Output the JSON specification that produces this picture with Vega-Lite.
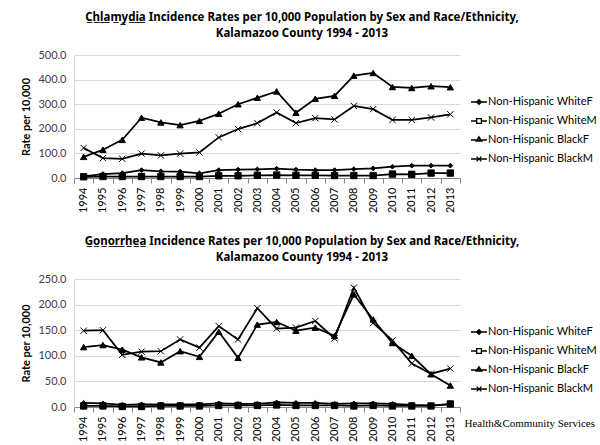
{
  "$schema": "https://vega.github.io/schema/vega-lite/v6.json",
  "padding": {"left": 20, "top": 11, "right": 5, "bottom": 0},
  "background": "white",
  "config": {
    "font": "Lato",
    "view": {"stroke": null},
    "axis": {"labelFont": "Lato", "titleFont": "Lato"},
    "title": {"font": "Noto Sans", "fontSize": 11.5, "fontWeight": "bold", "color": "black", "lineHeight": 16},
    "legend": {"labelFont": "Lato"}
  },
  "title": {"text": "Health&Community Services", "orient": "bottom", "anchor": "end", "font": "Liberation Serif", "fontSize": 11, "fontWeight": "normal", "color": "black", "offset": -24, "dx": -2},
  "datasets": {"rates": [
    {"disease":"Chlamydia","group":"Non-Hispanic WhiteF","year":"1994","rate":7},
    {"disease":"Chlamydia","group":"Non-Hispanic WhiteF","year":"1995","rate":16},
    {"disease":"Chlamydia","group":"Non-Hispanic WhiteF","year":"1996","rate":20},
    {"disease":"Chlamydia","group":"Non-Hispanic WhiteF","year":"1997","rate":32},
    {"disease":"Chlamydia","group":"Non-Hispanic WhiteF","year":"1998","rate":27},
    {"disease":"Chlamydia","group":"Non-Hispanic WhiteF","year":"1999","rate":26},
    {"disease":"Chlamydia","group":"Non-Hispanic WhiteF","year":"2000","rate":19},
    {"disease":"Chlamydia","group":"Non-Hispanic WhiteF","year":"2001","rate":32},
    {"disease":"Chlamydia","group":"Non-Hispanic WhiteF","year":"2002","rate":34},
    {"disease":"Chlamydia","group":"Non-Hispanic WhiteF","year":"2003","rate":35},
    {"disease":"Chlamydia","group":"Non-Hispanic WhiteF","year":"2004","rate":38},
    {"disease":"Chlamydia","group":"Non-Hispanic WhiteF","year":"2005","rate":34},
    {"disease":"Chlamydia","group":"Non-Hispanic WhiteF","year":"2006","rate":32},
    {"disease":"Chlamydia","group":"Non-Hispanic WhiteF","year":"2007","rate":32},
    {"disease":"Chlamydia","group":"Non-Hispanic WhiteF","year":"2008","rate":36},
    {"disease":"Chlamydia","group":"Non-Hispanic WhiteF","year":"2009","rate":39},
    {"disease":"Chlamydia","group":"Non-Hispanic WhiteF","year":"2010","rate":46},
    {"disease":"Chlamydia","group":"Non-Hispanic WhiteF","year":"2011","rate":50},
    {"disease":"Chlamydia","group":"Non-Hispanic WhiteF","year":"2012","rate":50},
    {"disease":"Chlamydia","group":"Non-Hispanic WhiteF","year":"2013","rate":50},
    {"disease":"Chlamydia","group":"Non-Hispanic WhiteM","year":"1994","rate":5},
    {"disease":"Chlamydia","group":"Non-Hispanic WhiteM","year":"1995","rate":6},
    {"disease":"Chlamydia","group":"Non-Hispanic WhiteM","year":"1996","rate":6},
    {"disease":"Chlamydia","group":"Non-Hispanic WhiteM","year":"1997","rate":6},
    {"disease":"Chlamydia","group":"Non-Hispanic WhiteM","year":"1998","rate":6},
    {"disease":"Chlamydia","group":"Non-Hispanic WhiteM","year":"1999","rate":6},
    {"disease":"Chlamydia","group":"Non-Hispanic WhiteM","year":"2000","rate":6},
    {"disease":"Chlamydia","group":"Non-Hispanic WhiteM","year":"2001","rate":9},
    {"disease":"Chlamydia","group":"Non-Hispanic WhiteM","year":"2002","rate":9},
    {"disease":"Chlamydia","group":"Non-Hispanic WhiteM","year":"2003","rate":11},
    {"disease":"Chlamydia","group":"Non-Hispanic WhiteM","year":"2004","rate":12},
    {"disease":"Chlamydia","group":"Non-Hispanic WhiteM","year":"2005","rate":11},
    {"disease":"Chlamydia","group":"Non-Hispanic WhiteM","year":"2006","rate":11},
    {"disease":"Chlamydia","group":"Non-Hispanic WhiteM","year":"2007","rate":10},
    {"disease":"Chlamydia","group":"Non-Hispanic WhiteM","year":"2008","rate":10},
    {"disease":"Chlamydia","group":"Non-Hispanic WhiteM","year":"2009","rate":10},
    {"disease":"Chlamydia","group":"Non-Hispanic WhiteM","year":"2010","rate":16},
    {"disease":"Chlamydia","group":"Non-Hispanic WhiteM","year":"2011","rate":15},
    {"disease":"Chlamydia","group":"Non-Hispanic WhiteM","year":"2012","rate":20},
    {"disease":"Chlamydia","group":"Non-Hispanic WhiteM","year":"2013","rate":20},
    {"disease":"Chlamydia","group":"Non-Hispanic BlackF","year":"1994","rate":86},
    {"disease":"Chlamydia","group":"Non-Hispanic BlackF","year":"1995","rate":115},
    {"disease":"Chlamydia","group":"Non-Hispanic BlackF","year":"1996","rate":155},
    {"disease":"Chlamydia","group":"Non-Hispanic BlackF","year":"1997","rate":245},
    {"disease":"Chlamydia","group":"Non-Hispanic BlackF","year":"1998","rate":226},
    {"disease":"Chlamydia","group":"Non-Hispanic BlackF","year":"1999","rate":215},
    {"disease":"Chlamydia","group":"Non-Hispanic BlackF","year":"2000","rate":232},
    {"disease":"Chlamydia","group":"Non-Hispanic BlackF","year":"2001","rate":261},
    {"disease":"Chlamydia","group":"Non-Hispanic BlackF","year":"2002","rate":300},
    {"disease":"Chlamydia","group":"Non-Hispanic BlackF","year":"2003","rate":326},
    {"disease":"Chlamydia","group":"Non-Hispanic BlackF","year":"2004","rate":352},
    {"disease":"Chlamydia","group":"Non-Hispanic BlackF","year":"2005","rate":265},
    {"disease":"Chlamydia","group":"Non-Hispanic BlackF","year":"2006","rate":322},
    {"disease":"Chlamydia","group":"Non-Hispanic BlackF","year":"2007","rate":334},
    {"disease":"Chlamydia","group":"Non-Hispanic BlackF","year":"2008","rate":416},
    {"disease":"Chlamydia","group":"Non-Hispanic BlackF","year":"2009","rate":427},
    {"disease":"Chlamydia","group":"Non-Hispanic BlackF","year":"2010","rate":370},
    {"disease":"Chlamydia","group":"Non-Hispanic BlackF","year":"2011","rate":366},
    {"disease":"Chlamydia","group":"Non-Hispanic BlackF","year":"2012","rate":373},
    {"disease":"Chlamydia","group":"Non-Hispanic BlackF","year":"2013","rate":369},
    {"disease":"Chlamydia","group":"Non-Hispanic BlackM","year":"1994","rate":122},
    {"disease":"Chlamydia","group":"Non-Hispanic BlackM","year":"1995","rate":81},
    {"disease":"Chlamydia","group":"Non-Hispanic BlackM","year":"1996","rate":78},
    {"disease":"Chlamydia","group":"Non-Hispanic BlackM","year":"1997","rate":99},
    {"disease":"Chlamydia","group":"Non-Hispanic BlackM","year":"1998","rate":92},
    {"disease":"Chlamydia","group":"Non-Hispanic BlackM","year":"1999","rate":99},
    {"disease":"Chlamydia","group":"Non-Hispanic BlackM","year":"2000","rate":104},
    {"disease":"Chlamydia","group":"Non-Hispanic BlackM","year":"2001","rate":165},
    {"disease":"Chlamydia","group":"Non-Hispanic BlackM","year":"2002","rate":199},
    {"disease":"Chlamydia","group":"Non-Hispanic BlackM","year":"2003","rate":223},
    {"disease":"Chlamydia","group":"Non-Hispanic BlackM","year":"2004","rate":266},
    {"disease":"Chlamydia","group":"Non-Hispanic BlackM","year":"2005","rate":223},
    {"disease":"Chlamydia","group":"Non-Hispanic BlackM","year":"2006","rate":243},
    {"disease":"Chlamydia","group":"Non-Hispanic BlackM","year":"2007","rate":238},
    {"disease":"Chlamydia","group":"Non-Hispanic BlackM","year":"2008","rate":293},
    {"disease":"Chlamydia","group":"Non-Hispanic BlackM","year":"2009","rate":280},
    {"disease":"Chlamydia","group":"Non-Hispanic BlackM","year":"2010","rate":236},
    {"disease":"Chlamydia","group":"Non-Hispanic BlackM","year":"2011","rate":236},
    {"disease":"Chlamydia","group":"Non-Hispanic BlackM","year":"2012","rate":246},
    {"disease":"Chlamydia","group":"Non-Hispanic BlackM","year":"2013","rate":259},
    {"disease":"Gonorrhea","group":"Non-Hispanic WhiteF","year":"1994","rate":8},
    {"disease":"Gonorrhea","group":"Non-Hispanic WhiteF","year":"1995","rate":7},
    {"disease":"Gonorrhea","group":"Non-Hispanic WhiteF","year":"1996","rate":4},
    {"disease":"Gonorrhea","group":"Non-Hispanic WhiteF","year":"1997","rate":5},
    {"disease":"Gonorrhea","group":"Non-Hispanic WhiteF","year":"1998","rate":5},
    {"disease":"Gonorrhea","group":"Non-Hispanic WhiteF","year":"1999","rate":5},
    {"disease":"Gonorrhea","group":"Non-Hispanic WhiteF","year":"2000","rate":5},
    {"disease":"Gonorrhea","group":"Non-Hispanic WhiteF","year":"2001","rate":7},
    {"disease":"Gonorrhea","group":"Non-Hispanic WhiteF","year":"2002","rate":6},
    {"disease":"Gonorrhea","group":"Non-Hispanic WhiteF","year":"2003","rate":6},
    {"disease":"Gonorrhea","group":"Non-Hispanic WhiteF","year":"2004","rate":9},
    {"disease":"Gonorrhea","group":"Non-Hispanic WhiteF","year":"2005","rate":8},
    {"disease":"Gonorrhea","group":"Non-Hispanic WhiteF","year":"2006","rate":8},
    {"disease":"Gonorrhea","group":"Non-Hispanic WhiteF","year":"2007","rate":6},
    {"disease":"Gonorrhea","group":"Non-Hispanic WhiteF","year":"2008","rate":7},
    {"disease":"Gonorrhea","group":"Non-Hispanic WhiteF","year":"2009","rate":7},
    {"disease":"Gonorrhea","group":"Non-Hispanic WhiteF","year":"2010","rate":6},
    {"disease":"Gonorrhea","group":"Non-Hispanic WhiteF","year":"2011","rate":4},
    {"disease":"Gonorrhea","group":"Non-Hispanic WhiteF","year":"2012","rate":3},
    {"disease":"Gonorrhea","group":"Non-Hispanic WhiteF","year":"2013","rate":5},
    {"disease":"Gonorrhea","group":"Non-Hispanic WhiteM","year":"1994","rate":2},
    {"disease":"Gonorrhea","group":"Non-Hispanic WhiteM","year":"1995","rate":2},
    {"disease":"Gonorrhea","group":"Non-Hispanic WhiteM","year":"1996","rate":1},
    {"disease":"Gonorrhea","group":"Non-Hispanic WhiteM","year":"1997","rate":1},
    {"disease":"Gonorrhea","group":"Non-Hispanic WhiteM","year":"1998","rate":2},
    {"disease":"Gonorrhea","group":"Non-Hispanic WhiteM","year":"1999","rate":2},
    {"disease":"Gonorrhea","group":"Non-Hispanic WhiteM","year":"2000","rate":2},
    {"disease":"Gonorrhea","group":"Non-Hispanic WhiteM","year":"2001","rate":3},
    {"disease":"Gonorrhea","group":"Non-Hispanic WhiteM","year":"2002","rate":3},
    {"disease":"Gonorrhea","group":"Non-Hispanic WhiteM","year":"2003","rate":3},
    {"disease":"Gonorrhea","group":"Non-Hispanic WhiteM","year":"2004","rate":4},
    {"disease":"Gonorrhea","group":"Non-Hispanic WhiteM","year":"2005","rate":3},
    {"disease":"Gonorrhea","group":"Non-Hispanic WhiteM","year":"2006","rate":3},
    {"disease":"Gonorrhea","group":"Non-Hispanic WhiteM","year":"2007","rate":3},
    {"disease":"Gonorrhea","group":"Non-Hispanic WhiteM","year":"2008","rate":2},
    {"disease":"Gonorrhea","group":"Non-Hispanic WhiteM","year":"2009","rate":3},
    {"disease":"Gonorrhea","group":"Non-Hispanic WhiteM","year":"2010","rate":2},
    {"disease":"Gonorrhea","group":"Non-Hispanic WhiteM","year":"2011","rate":2},
    {"disease":"Gonorrhea","group":"Non-Hispanic WhiteM","year":"2012","rate":2},
    {"disease":"Gonorrhea","group":"Non-Hispanic WhiteM","year":"2013","rate":6},
    {"disease":"Gonorrhea","group":"Non-Hispanic BlackF","year":"1994","rate":117},
    {"disease":"Gonorrhea","group":"Non-Hispanic BlackF","year":"1995","rate":121},
    {"disease":"Gonorrhea","group":"Non-Hispanic BlackF","year":"1996","rate":112},
    {"disease":"Gonorrhea","group":"Non-Hispanic BlackF","year":"1997","rate":97},
    {"disease":"Gonorrhea","group":"Non-Hispanic BlackF","year":"1998","rate":87},
    {"disease":"Gonorrhea","group":"Non-Hispanic BlackF","year":"1999","rate":109},
    {"disease":"Gonorrhea","group":"Non-Hispanic BlackF","year":"2000","rate":98},
    {"disease":"Gonorrhea","group":"Non-Hispanic BlackF","year":"2001","rate":147},
    {"disease":"Gonorrhea","group":"Non-Hispanic BlackF","year":"2002","rate":96},
    {"disease":"Gonorrhea","group":"Non-Hispanic BlackF","year":"2003","rate":161},
    {"disease":"Gonorrhea","group":"Non-Hispanic BlackF","year":"2004","rate":166},
    {"disease":"Gonorrhea","group":"Non-Hispanic BlackF","year":"2005","rate":149},
    {"disease":"Gonorrhea","group":"Non-Hispanic BlackF","year":"2006","rate":155},
    {"disease":"Gonorrhea","group":"Non-Hispanic BlackF","year":"2007","rate":139},
    {"disease":"Gonorrhea","group":"Non-Hispanic BlackF","year":"2008","rate":220},
    {"disease":"Gonorrhea","group":"Non-Hispanic BlackF","year":"2009","rate":171},
    {"disease":"Gonorrhea","group":"Non-Hispanic BlackF","year":"2010","rate":125},
    {"disease":"Gonorrhea","group":"Non-Hispanic BlackF","year":"2011","rate":100},
    {"disease":"Gonorrhea","group":"Non-Hispanic BlackF","year":"2012","rate":64},
    {"disease":"Gonorrhea","group":"Non-Hispanic BlackF","year":"2013","rate":42},
    {"disease":"Gonorrhea","group":"Non-Hispanic BlackM","year":"1994","rate":149},
    {"disease":"Gonorrhea","group":"Non-Hispanic BlackM","year":"1995","rate":150},
    {"disease":"Gonorrhea","group":"Non-Hispanic BlackM","year":"1996","rate":102},
    {"disease":"Gonorrhea","group":"Non-Hispanic BlackM","year":"1997","rate":108},
    {"disease":"Gonorrhea","group":"Non-Hispanic BlackM","year":"1998","rate":109},
    {"disease":"Gonorrhea","group":"Non-Hispanic BlackM","year":"1999","rate":132},
    {"disease":"Gonorrhea","group":"Non-Hispanic BlackM","year":"2000","rate":116},
    {"disease":"Gonorrhea","group":"Non-Hispanic BlackM","year":"2001","rate":158},
    {"disease":"Gonorrhea","group":"Non-Hispanic BlackM","year":"2002","rate":132},
    {"disease":"Gonorrhea","group":"Non-Hispanic BlackM","year":"2003","rate":193},
    {"disease":"Gonorrhea","group":"Non-Hispanic BlackM","year":"2004","rate":153},
    {"disease":"Gonorrhea","group":"Non-Hispanic BlackM","year":"2005","rate":155},
    {"disease":"Gonorrhea","group":"Non-Hispanic BlackM","year":"2006","rate":168},
    {"disease":"Gonorrhea","group":"Non-Hispanic BlackM","year":"2007","rate":134},
    {"disease":"Gonorrhea","group":"Non-Hispanic BlackM","year":"2008","rate":233},
    {"disease":"Gonorrhea","group":"Non-Hispanic BlackM","year":"2009","rate":164},
    {"disease":"Gonorrhea","group":"Non-Hispanic BlackM","year":"2010","rate":130},
    {"disease":"Gonorrhea","group":"Non-Hispanic BlackM","year":"2011","rate":85},
    {"disease":"Gonorrhea","group":"Non-Hispanic BlackM","year":"2012","rate":65},
    {"disease":"Gonorrhea","group":"Non-Hispanic BlackM","year":"2013","rate":75}
  ]},
  "data": {"name": "rates"},
  "spacing": 22,
  "resolve": {"scale": {"shape": "independent", "y": "independent"}, "legend": {"shape": "independent"}},
  "vconcat": [
    {
      "title": {"text": ["C\u0332h\u0332l\u0332a\u0332m\u0332y\u0332d\u0332i\u0332a\u0332 Incidence Rates per 10,000 Population by Sex and Race/Ethnicity,", "Kalamazoo County 1994 - 2013"], "dx": 35, "offset": 10},
      "width": 386,
      "height": 123,
      "transform": [{"filter": "datum.disease == 'Chlamydia'"}],
      "encoding": {
        "x": {"field": "year", "type": "ordinal", "scale": {"type": "band", "paddingInner": 0, "paddingOuter": 0}, "bandPosition": 0.5,
              "axis": {"title": null, "labelAngle": 270, "labelFontSize": 11, "labelColor": "black", "labelPadding": 4, "domainColor": "#868686", "tickColor": "#868686", "tickSize": 5, "tickBand": "extent", "grid": false}},
        "y": {"field": "rate", "type": "quantitative", "scale": {"domain": [0, 500], "nice": false},
              "axis": {"values": [0, 100, 200, 300, 400, 500], "format": ".1f", "title": "Rate per 10,000", "titleFontSize": 11, "titleFontWeight": "bold", "titleColor": "black", "titlePadding": 6, "labelFontSize": 11, "labelColor": "#404040", "labelPadding": 8, "ticks": false, "gridColor": "#d9d9d9", "domainColor": "#d9d9d9"}}
      },
      "resolve": {"scale": {"shape": "independent"}, "legend": {"shape": "independent"}},
      "layer": [
        {"mark": {"type": "line", "color": "black", "strokeWidth": 1.75}, "encoding": {"detail": {"field": "group"}}},
        {"mark": {"type": "point", "fill": "black", "stroke": "black", "strokeWidth": 1, "opacity": 1, "fillOpacity": 1, "size": 40},
         "encoding": {
           "shape": {"field": "group", "type": "nominal", "legend": null,
             "scale": {"domain": ["Non-Hispanic WhiteF", "Non-Hispanic WhiteM", "Non-Hispanic BlackF", "Non-Hispanic BlackM"], "range": ["M0,-0.75L0.75,0L0,0.75L-0.75,0Z", "square", "triangle-up", "M-1,-1L1,1M-1,1L1,-1"]}}
         }},
        {"transform": [{"filter": "datum.rate < 0"}],
         "mark": {"type": "point", "filled": false, "color": "black", "strokeWidth": 1.3, "opacity": 1, "size": 256},
         "encoding": {
           "shape": {"field": "group", "type": "nominal",
             "scale": {"domain": ["Non-Hispanic WhiteF", "Non-Hispanic WhiteM", "Non-Hispanic BlackF", "Non-Hispanic BlackM"], "range": ["M-1,0H1M0,-0.3L0.3,0L0,0.3L-0.3,0ZM0,-0.15L0.15,0L0,0.15L-0.15,0Z", "M-1,0H-0.3M0.3,0H1M-0.3,-0.3H0.3V0.3H-0.3Z", "M-1,0H1M0,-0.4L0.35,0.15H-0.35Z", "M-1,0H1M-0.3,-0.3L0.3,0.3M-0.3,0.3L0.3,-0.3"]},
             "legend": {"title": null, "orient": "none", "legendX": 396, "legendY": 38, "padding": 0, "rowPadding": 5, "labelFontSize": 11, "labelColor": "black", "labelOffset": 0, "labelLimit": 200, "symbolSize": 256, "symbolStrokeWidth": 1.3, "symbolStrokeColor": "black", "symbolOpacity": 1}}
         }}
      ]
    },
    {
      "title": {"text": ["G\u0332o\u0332n\u0332o\u0332r\u0332r\u0332h\u0332e\u0332a\u0332 Incidence Rates per 10,000 Population by Sex and Race/Ethnicity,", "Kalamazoo County 1994 - 2013"], "dx": 35, "offset": 10},
      "width": 386,
      "height": 128,
      "transform": [{"filter": "datum.disease == 'Gonorrhea'"}],
      "encoding": {
        "x": {"field": "year", "type": "ordinal", "scale": {"type": "band", "paddingInner": 0, "paddingOuter": 0}, "bandPosition": 0.5,
              "axis": {"title": null, "labelAngle": 270, "labelFontSize": 11, "labelColor": "black", "labelPadding": 4, "domainColor": "#868686", "tickColor": "#868686", "tickSize": 5, "tickBand": "extent", "grid": false}},
        "y": {"field": "rate", "type": "quantitative", "scale": {"domain": [0, 250], "nice": false},
              "axis": {"values": [0, 50, 100, 150, 200, 250], "format": ".1f", "title": "Rate per 10,000", "titleFontSize": 11, "titleFontWeight": "bold", "titleColor": "black", "titlePadding": 6, "labelFontSize": 11, "labelColor": "#404040", "labelPadding": 8, "ticks": false, "gridColor": "#d9d9d9", "domainColor": "#d9d9d9"}}
      },
      "resolve": {"scale": {"shape": "independent"}, "legend": {"shape": "independent"}},
      "layer": [
        {"mark": {"type": "line", "color": "black", "strokeWidth": 1.75}, "encoding": {"detail": {"field": "group"}}},
        {"mark": {"type": "point", "fill": "black", "stroke": "black", "strokeWidth": 1, "opacity": 1, "fillOpacity": 1, "size": 40},
         "encoding": {
           "shape": {"field": "group", "type": "nominal", "legend": null,
             "scale": {"domain": ["Non-Hispanic WhiteF", "Non-Hispanic WhiteM", "Non-Hispanic BlackF", "Non-Hispanic BlackM"], "range": ["M0,-0.75L0.75,0L0,0.75L-0.75,0Z", "square", "triangle-up", "M-1,-1L1,1M-1,1L1,-1"]}}
         }},
        {"transform": [{"filter": "datum.rate < 0"}],
         "mark": {"type": "point", "filled": false, "color": "black", "strokeWidth": 1.3, "opacity": 1, "size": 256},
         "encoding": {
           "shape": {"field": "group", "type": "nominal",
             "scale": {"domain": ["Non-Hispanic WhiteF", "Non-Hispanic WhiteM", "Non-Hispanic BlackF", "Non-Hispanic BlackM"], "range": ["M-1,0H1M0,-0.3L0.3,0L0,0.3L-0.3,0ZM0,-0.15L0.15,0L0,0.15L-0.15,0Z", "M-1,0H-0.3M0.3,0H1M-0.3,-0.3H0.3V0.3H-0.3Z", "M-1,0H1M0,-0.4L0.35,0.15H-0.35Z", "M-1,0H1M-0.3,-0.3L0.3,0.3M-0.3,0.3L0.3,-0.3"]},
             "legend": {"title": null, "orient": "none", "legendX": 396, "legendY": 44, "padding": 0, "rowPadding": 5, "labelFontSize": 11, "labelColor": "black", "labelOffset": 0, "labelLimit": 200, "symbolSize": 256, "symbolStrokeWidth": 1.3, "symbolStrokeColor": "black", "symbolOpacity": 1}}
         }}
      ]
    }
  ]
}
